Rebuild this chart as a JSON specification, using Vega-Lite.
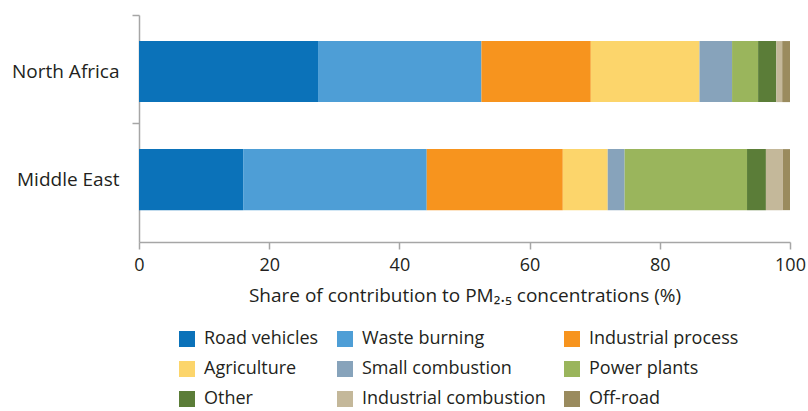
{
  "$schema": "https://vega.github.io/schema/vega-lite/v6.json",
  "autosize": {"type": "none"},
  "width": 651,
  "height": 227,
  "padding": {"left": 139, "top": 15, "right": 18, "bottom": 169},
  "background": "white",
  "config": {
    "view": {"stroke": null},
    "font": "Open Sans",
    "axis": {"labelColor": "#231F20", "titleColor": "#231F20", "domainColor": "#A6A6A6", "tickColor": "#A6A6A6", "domainWidth": 1.5, "tickWidth": 1.5},
    "legend": {"labelColor": "#231F20"}
  },
  "data": {
    "values": [
      {"region": "North Africa", "source": "Road vehicles", "rank": 1, "share": 27.5},
      {"region": "North Africa", "source": "Waste burning", "rank": 2, "share": 25.1},
      {"region": "North Africa", "source": "Industrial process", "rank": 3, "share": 16.8},
      {"region": "North Africa", "source": "Agriculture", "rank": 4, "share": 16.7},
      {"region": "North Africa", "source": "Small combustion", "rank": 5, "share": 5.0},
      {"region": "North Africa", "source": "Power plants", "rank": 6, "share": 4.0},
      {"region": "North Africa", "source": "Other", "rank": 7, "share": 2.8},
      {"region": "North Africa", "source": "Industrial combustion", "rank": 8, "share": 0.9},
      {"region": "North Africa", "source": "Off-road", "rank": 9, "share": 1.2},
      {"region": "Middle East", "source": "Road vehicles", "rank": 1, "share": 16.0},
      {"region": "Middle East", "source": "Waste burning", "rank": 2, "share": 28.2},
      {"region": "Middle East", "source": "Industrial process", "rank": 3, "share": 20.9},
      {"region": "Middle East", "source": "Agriculture", "rank": 4, "share": 6.9},
      {"region": "Middle East", "source": "Small combustion", "rank": 5, "share": 2.6},
      {"region": "Middle East", "source": "Power plants", "rank": 6, "share": 18.8},
      {"region": "Middle East", "source": "Other", "rank": 7, "share": 2.9},
      {"region": "Middle East", "source": "Industrial combustion", "rank": 8, "share": 2.6},
      {"region": "Middle East", "source": "Off-road", "rank": 9, "share": 1.1}
    ]
  },
  "mark": {"type": "bar"},
  "encoding": {
    "y": {
      "field": "region", "type": "nominal", "sort": null,
      "scale": {"paddingInner": 0.435, "paddingOuter": 0.268, "align": 0.45},
      "axis": {"title": null, "labelFontSize": 19, "labelPadding": 13, "tickSize": 7, "bandPosition": -0.426}
    },
    "x": {
      "field": "share", "type": "quantitative", "stack": "zero",
      "scale": {"domain": [0, 100], "nice": false},
      "axis": {"values": [0, 20, 40, 60, 80, 100], "grid": false, "tickSize": 7, "labelFlush": false, "labelFontSize": 18, "labelPadding": 7, "titleFontSize": 19, "titleFontWeight": "normal", "titlePadding": 12, "title": "Share of contribution to PM₂.₅ concentrations (%)"}
    },
    "order": {"field": "rank", "type": "quantitative", "sort": "ascending"},
    "color": {
      "field": "source", "type": "nominal",
      "sort": ["Road vehicles", "Waste burning", "Industrial process", "Agriculture", "Small combustion", "Power plants", "Other", "Industrial combustion", "Off-road"],
      "scale": {
        "domain": ["Road vehicles", "Waste burning", "Industrial process", "Agriculture", "Small combustion", "Power plants", "Other", "Industrial combustion", "Off-road"],
        "range": ["#0B72B9", "#4E9ED6", "#F7941E", "#FCD56B", "#87A3BB", "#9AB55C", "#5B7D38", "#C4B89A", "#9A8B5E"]
      },
      "legend": {
        "title": null, "orient": "none", "direction": "horizontal", "legendX": 39, "legendY": 315, "columns": 3,
        "symbolType": "square", "symbolSize": 256, "symbolStrokeWidth": 0, "symbolOpacity": 1,
        "labelFontSize": 18, "labelOffset": 8, "columnPadding": 17, "rowPadding": 12, "padding": 0, "labelLimit": 300
      }
    }
  }
}
